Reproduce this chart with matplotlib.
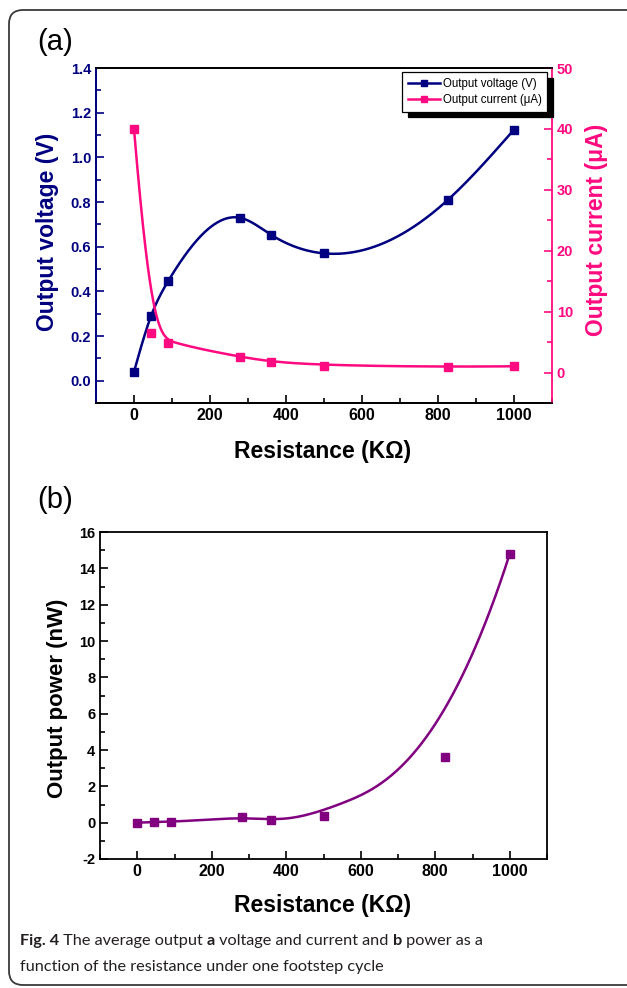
import numpy as np
import matplotlib
matplotlib.use("Agg")
import matplotlib.pyplot as plt
from matplotlib.patches import FancyBboxPatch
from matplotlib.transforms import IdentityTransform
from matplotlib.ticker import MultipleLocator

# ---------------- data ----------------
resistance = [0, 45, 90, 280, 360, 500, 825, 1000]          # KOhm
voltage = [0.04, 0.29, 0.446, 0.729, 0.654, 0.57, 0.808, 1.124]  # V
current = [40.0, 6.44, 4.9, 2.56, 1.8, 1.15, 0.92, 1.03]        # uA
power = [0.0, 0.03, 0.03, 0.31, 0.13, 0.37, 3.6, 14.8]           # nW

xticks = [0, 200, 400, 600, 800, 1000]
vticks = [0.0, 0.2, 0.4, 0.6, 0.8, 1.0, 1.2, 1.4]
iticks = [0, 10, 20, 30, 40, 50]
pticks = [-2, 0, 2, 4, 6, 8, 10, 12, 14, 16]

NAVY = "#000080"
PINK = "#ff0a80"
PURPLE = "#800080"
FONT = "Liberation Sans"


def natural_spline(x, y, xs):
    x = np.asarray(x, float); y = np.asarray(y, float)
    n = len(x); h = np.diff(x)
    A = np.zeros((n, n)); b = np.zeros(n)
    A[0, 0] = 1; A[-1, -1] = 1
    for i in range(1, n - 1):
        A[i, i - 1] = h[i - 1]; A[i, i] = 2 * (h[i - 1] + h[i]); A[i, i + 1] = h[i]
        b[i] = 3 * ((y[i + 1] - y[i]) / h[i] - (y[i] - y[i - 1]) / h[i - 1])
    c = np.linalg.solve(A, b)
    bb = (y[1:] - y[:-1]) / h - h * (2 * c[:-1] + c[1:]) / 3
    d = (c[1:] - c[:-1]) / (3 * h)
    idx = np.clip(np.searchsorted(x, xs) - 1, 0, n - 2)
    dx = xs - x[idx]
    return y[idx] + bb[idx] * dx + c[idx] * dx ** 2 + d[idx] * dx ** 3


def bspline_curve(px, py, num=600, k=3):
    P = np.column_stack([px, py]).astype(float)
    n = len(P)
    inner = np.arange(1, n - k) / (n - k)
    t = np.concatenate([np.zeros(k + 1), inner, np.ones(k + 1)])
    u = np.linspace(0, 1, num)
    u[-1] = 1 - 1e-12

    def N(i, p, u):
        if p == 0:
            return ((t[i] <= u) & (u < t[i + 1])).astype(float)
        a = np.zeros_like(u); b = np.zeros_like(u)
        if t[i + p] > t[i]:
            a = (u - t[i]) / (t[i + p] - t[i]) * N(i, p - 1, u)
        if t[i + p + 1] > t[i + 1]:
            b = (t[i + p + 1] - u) / (t[i + p + 1] - t[i + 1]) * N(i + 1, p - 1, u)
        return a + b

    B = np.array([N(i, k, u) for i in range(n)])
    C = B.T @ P
    return C[:, 0], C[:, 1]


W, H = 627, 988
fig = plt.figure(figsize=(W / 100, H / 100), dpi=100)

# rounded frame
frame = FancyBboxPatch((9, 3), 640, 975, boxstyle="round,pad=0,rounding_size=14",
                       transform=IdentityTransform(), facecolor="none",
                       edgecolor="#3a3a3a", linewidth=1.3)
fig.patches.append(frame)

# ---------------- panel (a) ----------------
ax1 = fig.add_axes([96 / W, 1 - 403 / H, 456 / W, 335 / H])
ax1b = ax1.twinx()

xs = np.linspace(resistance[0], resistance[-1], 600)
ax1.plot(xs, natural_spline(resistance, voltage, xs), color=NAVY, lw=1.8, zorder=2)
ax1.plot(resistance, voltage, ls="none", marker="s", ms=6, color=NAVY, zorder=3)
cx, cy = bspline_curve(resistance, current)
ax1b.plot(cx, cy, color=PINK, lw=1.8, zorder=2)
ax1b.plot(resistance, current, ls="none", marker="s", ms=6, color=PINK, zorder=3)

ax1.set_xlim(-100, 1100)
ax1.set_ylim(-0.1, 1.4)
ax1b.set_ylim(-5, 50)
ax1.set_xticks(xticks)
ax1.set_yticks(vticks)
ax1b.set_yticks(iticks)
ax1.xaxis.set_minor_locator(MultipleLocator(100))
ax1.yaxis.set_minor_locator(MultipleLocator(0.1))
ax1b.yaxis.set_minor_locator(MultipleLocator(5))

ax1.tick_params(axis="both", which="both", direction="in", top=False, right=False)
ax1.tick_params(axis="both", which="major", length=6, width=1.2)
ax1.tick_params(axis="both", which="minor", length=3.5, width=1.2)
ax1.tick_params(axis="y", which="both", colors=NAVY)
ax1b.tick_params(axis="y", which="both", direction="in", colors=PINK, width=1.2)
ax1b.tick_params(axis="y", which="major", length=6)
ax1b.tick_params(axis="y", which="minor", length=3.5)
for lab in ax1.get_xticklabels():
    lab.set_fontfamily(FONT); lab.set_fontweight("bold"); lab.set_fontsize(11.5); lab.set_color("black")
ax1.set_yticklabels([f"{v:.1f}" for v in vticks])
for lab in ax1.get_yticklabels():
    lab.set_fontfamily(FONT); lab.set_fontweight("bold"); lab.set_fontsize(10.5)
ax1b.set_yticklabels([str(v) for v in iticks])
for lab in ax1b.get_yticklabels():
    lab.set_fontfamily(FONT); lab.set_fontweight("bold"); lab.set_fontsize(10.5)

for ax in (ax1, ax1b):
    for s in ax.spines.values():
        s.set_linewidth(1.3)
    ax.spines["top"].set_color("black")
    ax.spines["bottom"].set_color("black")
ax1b.spines["left"].set_color(NAVY)
ax1b.spines["right"].set_color(PINK)
ax1.spines["left"].set_color(NAVY)
ax1.spines["right"].set_visible(False)

fig.text(48 / W, 1 - 232 / H, "Output voltage (V)", rotation=90, ha="center", va="center",
         fontsize=16.5, fontweight="bold", color=NAVY, family=FONT)
fig.text(597 / W, 1 - 230 / H, "Output current (\u03bcA)", rotation=90, ha="center", va="center",
         fontsize=16.5, fontweight="bold", color=PINK, family=FONT)
fig.text(323 / W, 1 - 451 / H, "Resistance (K\u03a9)", ha="center", va="center",
         fontsize=16.5, fontweight="bold", color="black", family=FONT)
fig.text(37 / W, 1 - 42 / H, "(a)", ha="left", va="center", fontsize=21, color="black", family=FONT)

h1 = plt.Line2D([], [], color=NAVY, lw=1.8, marker="s", ms=5)
h2 = plt.Line2D([], [], color=PINK, lw=1.8, marker="s", ms=5)
leg = ax1b.legend([h1, h2], ["Output voltage (V)", "Output current (\u03bcA)"],
                  loc="upper right", bbox_to_anchor=(0.99, 0.988), borderaxespad=0,
                  prop={"family": FONT, "size": 8.3}, fancybox=False, framealpha=1,
                  edgecolor="black", handlelength=2.8, handletextpad=0.2,
                  borderpad=0.5, labelspacing=0.35,
                  shadow={"ox": 4, "oy": -4, "color": "black", "alpha": 1})
leg.get_frame().set_linewidth(0.9)
leg.set_zorder(10)

# ---------------- panel (b) ----------------
ax2 = fig.add_axes([100 / W, 1 - 859 / H, 447 / W, 327 / H])
px, py = bspline_curve(resistance, power)
ax2.plot(px, py, color=PURPLE, lw=1.8, zorder=2)
ax2.plot(resistance, power, ls="none", marker="s", ms=6, color=PURPLE, zorder=3)
ax2.set_xlim(-100, 1100)
ax2.set_ylim(-2, 16)
ax2.set_xticks(xticks)
ax2.set_yticks(pticks)
ax2.xaxis.set_minor_locator(MultipleLocator(100))
ax2.yaxis.set_minor_locator(MultipleLocator(1))
ax2.tick_params(axis="both", which="both", direction="in", top=False, right=False, colors="black")
ax2.tick_params(axis="both", which="major", length=6, width=1.2)
ax2.tick_params(axis="both", which="minor", length=3.5, width=1.2)
for lab in ax2.get_xticklabels():
    lab.set_fontfamily(FONT); lab.set_fontweight("bold"); lab.set_fontsize(11.5)
ax2.set_yticklabels([str(v) for v in pticks])
for lab in ax2.get_yticklabels():
    lab.set_fontfamily(FONT); lab.set_fontweight("bold"); lab.set_fontsize(10.5)
for s in ax2.spines.values():
    s.set_linewidth(1.3)

fig.text(57 / W, 1 - 698 / H, "Output power (nW)", rotation=90, ha="center", va="center",
         fontsize=16, fontweight="bold", color="black", family=FONT)
fig.text(323 / W, 1 - 905 / H, "Resistance (K\u03a9)", ha="center", va="center",
         fontsize=16.5, fontweight="bold", color="black", family=FONT)
fig.text(37 / W, 1 - 500 / H, "(b)", ha="left", va="center", fontsize=21, color="black", family=FONT)

# ---------------- caption ----------------
CAP = "#231f20"
CFONT = "Lato"
CSIZE = 11.7
parts1 = [("Fig. 4", "bold"), (" The average output ", "normal"), ("a", "bold"),
          (" voltage and current and ", "normal"), ("b", "bold"), (" power as a", "normal")]
prev = fig.text(20 / W, 1 - 945 / H, parts1[0][0], fontsize=CSIZE, fontweight=parts1[0][1],
                family=CFONT, color=CAP, ha="left", va="baseline")
for txt, wt in parts1[1:]:
    prev = ax2.annotate(txt, xy=(1, 0), xycoords=prev, ha="left", va="bottom",
                        fontsize=CSIZE, fontweight=wt, family=CFONT, color=CAP,
                        annotation_clip=False)
fig.text(20 / W, 1 - 971 / H, "function of the resistance under one footstep cycle",
         fontsize=CSIZE, family=CFONT, color=CAP, ha="left", va="baseline")

fig.savefig("out.png", dpi=100)
